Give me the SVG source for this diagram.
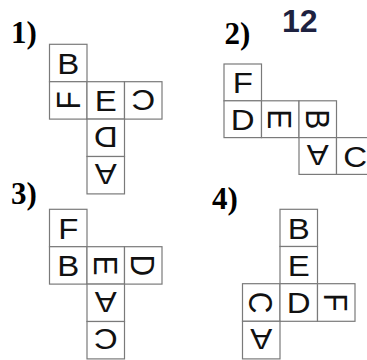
<svg xmlns="http://www.w3.org/2000/svg" width="367" height="360" viewBox="0 0 367 360">
<style>
.c{fill:#fff;stroke:#7a7a7a;stroke-width:1.2}
.l{font-family:"Liberation Sans",Arial,sans-serif;font-size:30px;fill:#111;text-anchor:middle}
.n{font-family:"Liberation Serif","Times New Roman",serif;font-weight:bold;font-size:31px;fill:#000}
.t{font-family:"Liberation Sans",Arial,sans-serif;font-weight:bold;font-size:32px;fill:#1e2240}
</style>
<rect width="367" height="360" fill="#fff"/>
<text class="n" x="11" y="42.5">1)</text>
<text class="n" x="224.5" y="43.5">2)</text>
<text class="n" x="11" y="203.5">3)</text>
<text class="n" x="212" y="208.5">4)</text>
<text class="t" x="282" y="32">12</text>

<g id="p1">
<g id="p1-B"><rect class="c" x="49.5" y="44.3" width="37.5" height="37.4"/><text class="l" x="0" y="10.75" transform="translate(68.25 63) scale(1.1 1)">B</text></g>
<g id="p1-F"><rect class="c" x="49.5" y="81.7" width="37.5" height="37.4"/><text class="l" x="0" y="10.75" transform="translate(68.25 100.4) scale(1.1 1) rotate(-90)">F</text></g>
<g id="p1-E"><rect class="c" x="87" y="81.7" width="37.5" height="37.4"/><text class="l" x="0" y="10.75" transform="translate(105.75 100.4) scale(1.1 1)">E</text></g>
<g id="p1-C"><rect class="c" x="124.5" y="81.7" width="37.5" height="37.4"/><text class="l" x="0" y="10.75" transform="translate(143.25 100.4) scale(1.1 1) rotate(180)">C</text></g>
<g id="p1-D"><rect class="c" x="87" y="119.1" width="37.5" height="37.4"/><text class="l" x="0" y="10.75" transform="translate(105.75 137.8) scale(1.1 1) rotate(180)">D</text></g>
<g id="p1-A"><rect class="c" x="87" y="156.5" width="37.5" height="37.4"/><text class="l" x="0" y="10.75" transform="translate(105.75 175.2) scale(1.1 1) rotate(180)">A</text></g>
</g>

<g id="p2">
<g id="p2-F"><rect class="c" x="224" y="64" width="37.5" height="36.8"/><text class="l" x="0" y="10.75" transform="translate(242.75 82.4) scale(1.1 1)">F</text></g>
<g id="p2-D"><rect class="c" x="224" y="100.8" width="37.5" height="36.8"/><text class="l" x="0" y="10.75" transform="translate(242.75 119.2) scale(1.1 1)">D</text></g>
<g id="p2-E"><rect class="c" x="261.5" y="100.8" width="37.5" height="36.8"/><text class="l" x="0" y="10.75" transform="translate(280.25 119.2) scale(1.1 1) rotate(90)">E</text></g>
<g id="p2-B"><rect class="c" x="299" y="100.8" width="37.5" height="36.8"/><text class="l" x="0" y="10.75" transform="translate(317.75 119.2) scale(1.1 1) rotate(90)">B</text></g>
<g id="p2-A"><rect class="c" x="299" y="137.6" width="37.5" height="36.8"/><text class="l" x="0" y="10.75" transform="translate(317.75 156) scale(1.1 1) rotate(180)">A</text></g>
<g id="p2-C"><rect class="c" x="336.5" y="137.6" width="37.5" height="36.8"/><text class="l" x="0" y="10.75" transform="translate(355.25 156) scale(1.1 1)">C</text></g>
</g>

<g id="p3">
<g id="p3-F"><rect class="c" x="49.5" y="209.3" width="37.5" height="37.4"/><text class="l" x="0" y="10.75" transform="translate(68.25 228) scale(1.1 1)">F</text></g>
<g id="p3-B"><rect class="c" x="49.5" y="246.7" width="37.5" height="37.4"/><text class="l" x="0" y="10.75" transform="translate(68.25 265.4) scale(1.1 1)">B</text></g>
<g id="p3-E"><rect class="c" x="87" y="246.7" width="37.5" height="37.4"/><text class="l" x="0" y="10.75" transform="translate(105.75 265.4) scale(1.1 1) rotate(90)">E</text></g>
<g id="p3-D"><rect class="c" x="124.5" y="246.7" width="37.5" height="37.4"/><text class="l" x="0" y="10.75" transform="translate(143.25 265.4) scale(1.1 1) rotate(90)">D</text></g>
<g id="p3-A"><rect class="c" x="87" y="284.1" width="37.5" height="37.4"/><text class="l" x="0" y="10.75" transform="translate(105.75 302.8) scale(1.1 1) rotate(180)">A</text></g>
<g id="p3-C"><rect class="c" x="87" y="321.5" width="37.5" height="37.4"/><text class="l" x="0" y="10.75" transform="translate(105.75 340.2) scale(1.1 1) rotate(180)">C</text></g>
</g>

<g id="p4">
<g id="p4-B"><rect class="c" x="280" y="209.3" width="37.5" height="37.2"/><text class="l" x="0" y="10.75" transform="translate(298.75 227.9) scale(1.1 1)">B</text></g>
<g id="p4-E"><rect class="c" x="280" y="246.5" width="37.5" height="37.2"/><text class="l" x="0" y="10.75" transform="translate(298.75 265.1) scale(1.1 1)">E</text></g>
<g id="p4-C"><rect class="c" x="242.5" y="283.7" width="37.5" height="37.6"/><text class="l" x="0" y="10.75" transform="translate(261.25 302.5) scale(1.1 1) rotate(90)">C</text></g>
<g id="p4-D"><rect class="c" x="280" y="283.7" width="37.5" height="37.6"/><text class="l" x="0" y="10.75" transform="translate(298.75 302.5) scale(1.1 1)">D</text></g>
<g id="p4-F"><rect class="c" x="317.5" y="283.7" width="37.5" height="37.6"/><text class="l" x="0" y="10.75" transform="translate(336.25 302.5) scale(1.1 1) rotate(90)">F</text></g>
<g id="p4-A"><rect class="c" x="242.5" y="321.3" width="37.5" height="37.6"/><text class="l" x="0" y="10.75" transform="translate(261.25 340.1) scale(1.1 1) rotate(180)">A</text></g>
</g>
</svg>
